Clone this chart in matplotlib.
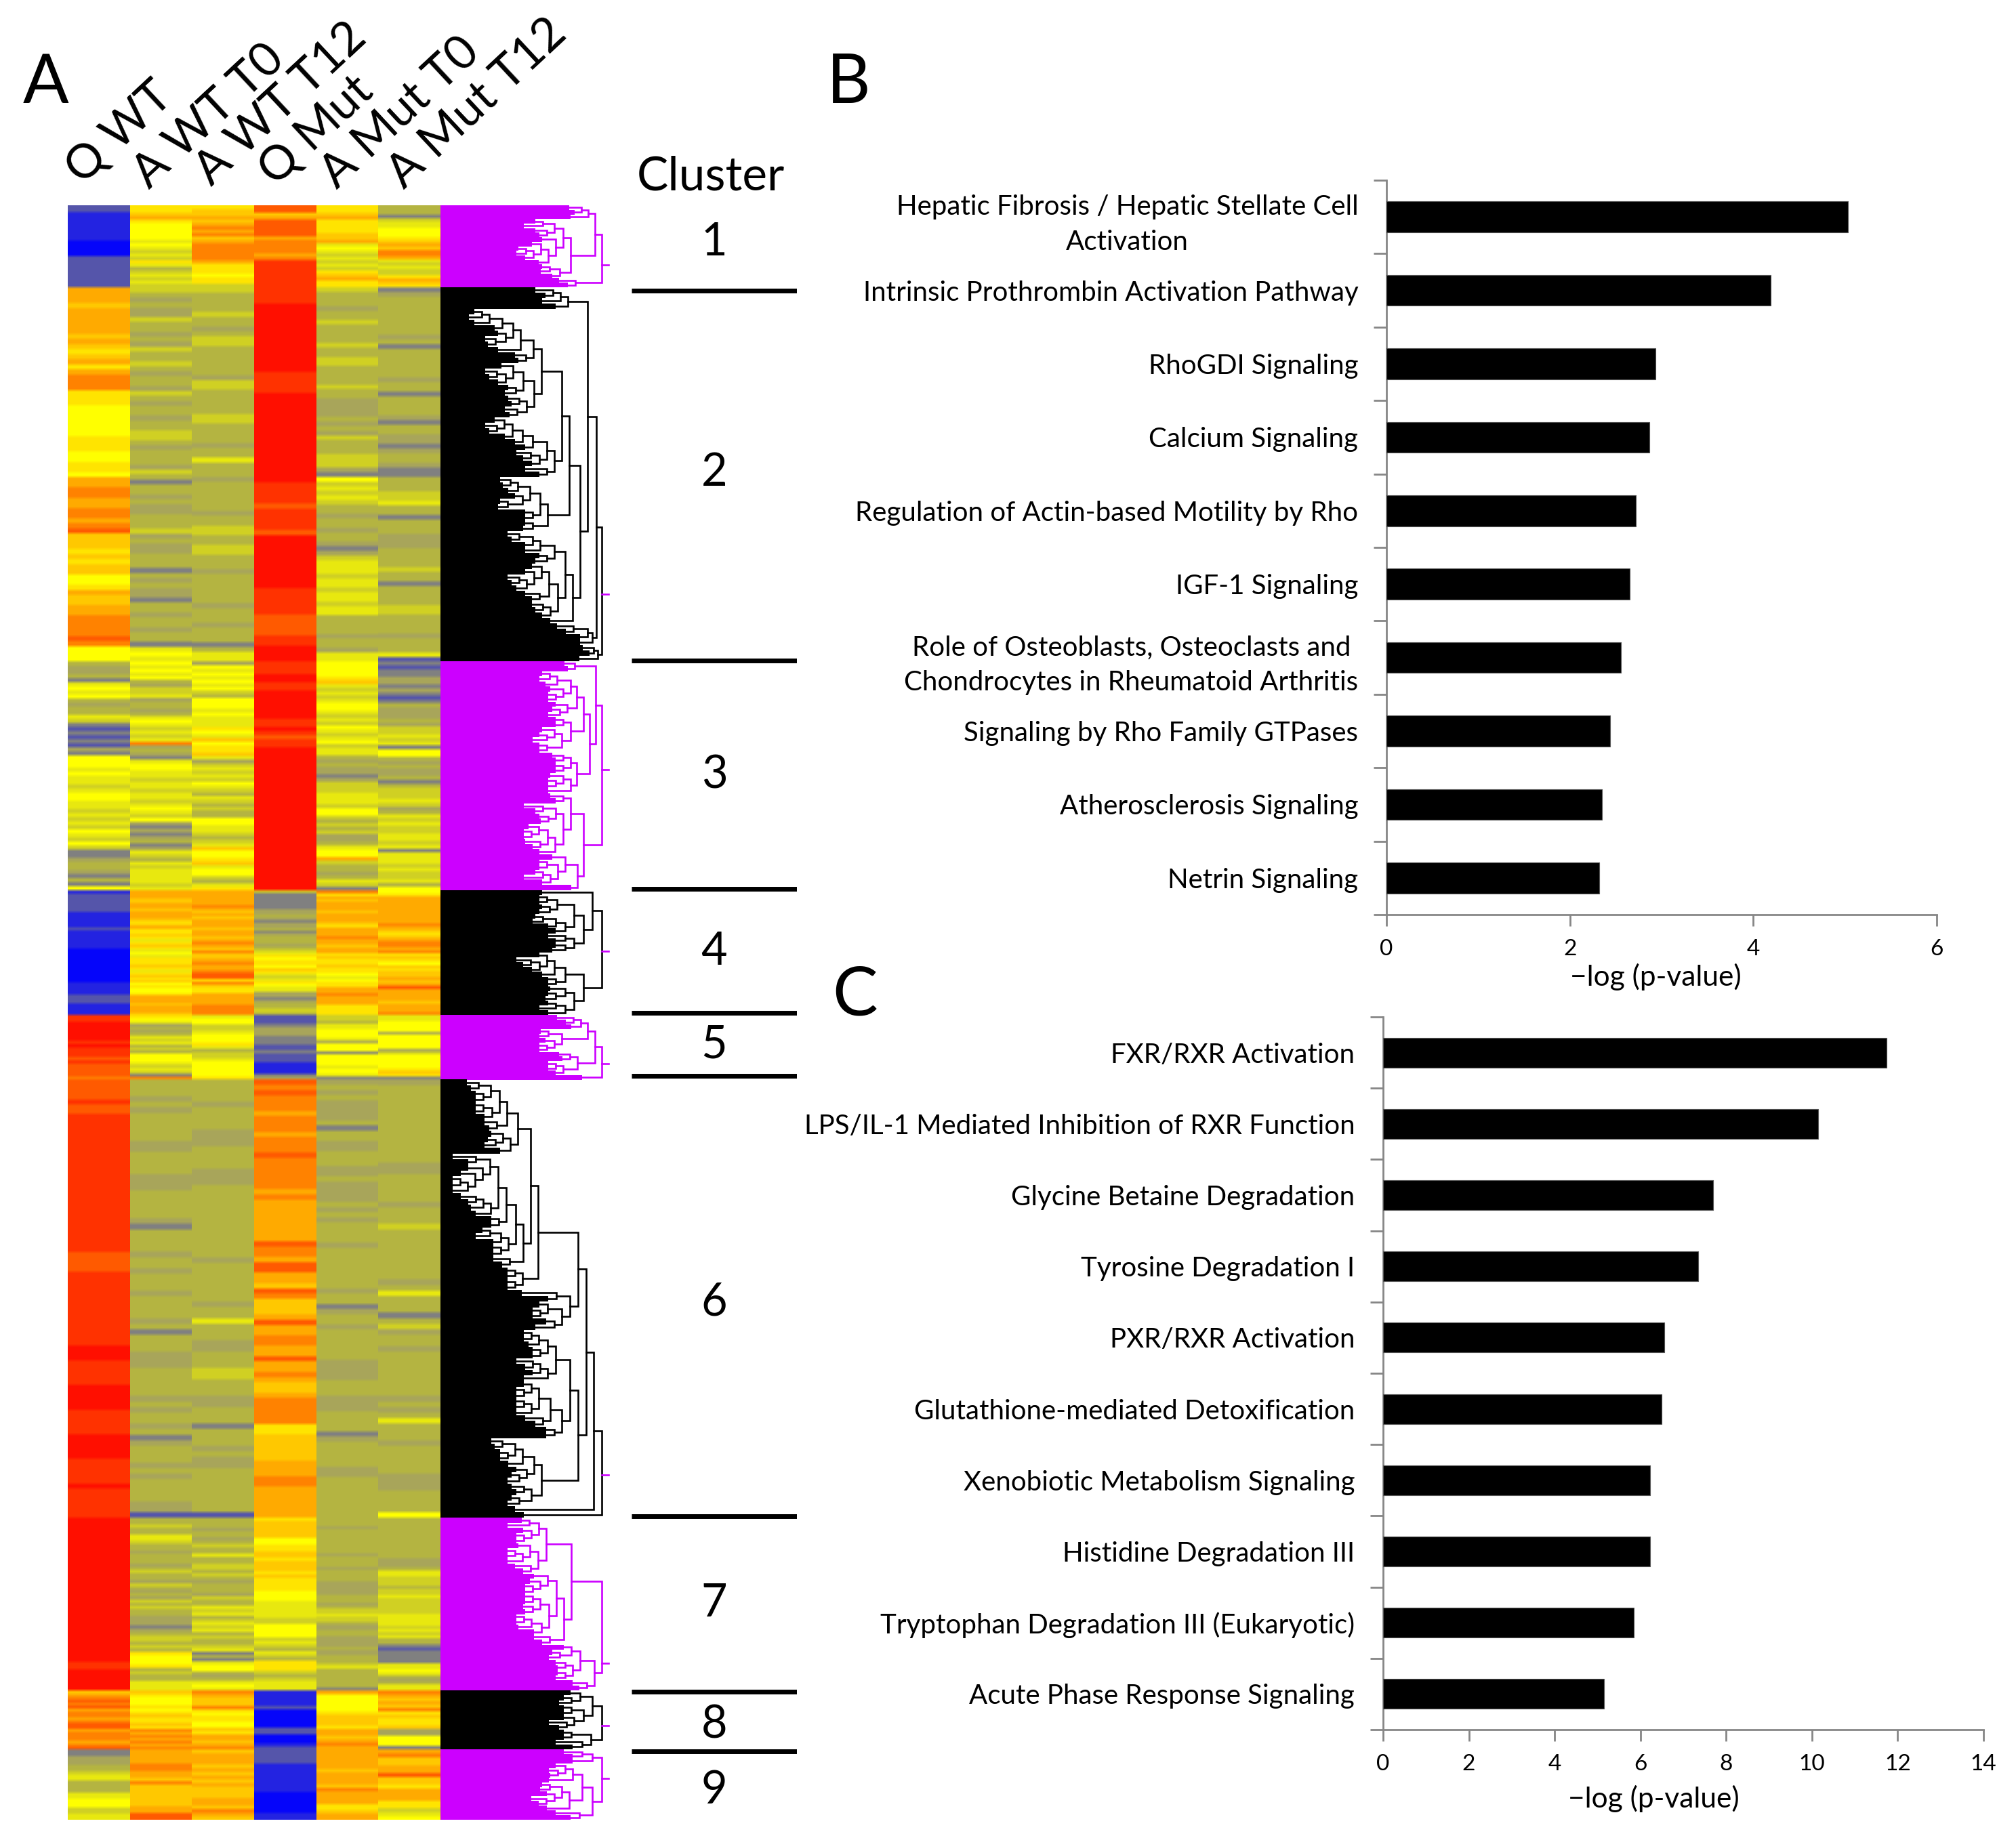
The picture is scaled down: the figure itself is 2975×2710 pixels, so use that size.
import numpy as np
import matplotlib
matplotlib.use("Agg")
import matplotlib.pyplot as plt
from matplotlib.colors import LinearSegmentedColormap

plt.rcParams['font.family'] = ['Lato', 'DejaVu Sans']
W, H = 2975, 2710

columns = ["Q WT", "A WT T0", "A WT T12", "Q Mut", "A Mut T0", "A Mut T12"]
cluster_rows = [121, 552, 338, 185, 95, 647, 255, 87, 104]
cluster_names = ["1", "2", "3", "4", "5", "6", "7", "8", "9"]
cluster_rule_rows = [126, 672, 1009, 1192, 1286, 1936, 2195, 2283]
cluster_label_rows = [55, 395, 842, 1102, 1240, 1620, 2065, 2244, 2341]

# expression level letters, from lowest (blue) through grey and yellow to highest (red)
LEVELS = "Bbvgoklmyuatpqrs"
LEVEL_COLORS = ["#0505fa", "#2323e1", "#5555aa", "#808080", "#a8a55a", "#b4b441", "#d0d023", "#e8e80f",
                "#ffff00", "#ffe400", "#ffc800", "#ffaa00", "#ff8200", "#ff5a00", "#ff3200", "#ff0f00"]

q_wt = ["vvbbbbbbbbbBBBBBvvvvvvvvvv",
        "tttatttttatauatutpppuuuyyyyyyuuuyyuuyttppttpptpqaaauauaayyutaattppppqpyyy",
        "kookgmymykokkmlgvgvgvogyyymymmlmyymmlmlmlymlylggokkogkgy",
        "bvvvvvvbbbbbvbbbbbbBBBBBBBBBBBbbbbvvvbbbb",
        "rrssssssrsrrrqrqqqqp",
        "qqqqrqqrrrrrrrrrrrrrrrrrrrrrrrrrrrrqqqqrrrrrrrrrrrrrrrsssrrrrrsssssrrrrrsssssrrrrrsrrrrrr",
        "ssssssssssssssssssssssssssssssssssssssssrrssssss",
        "atpqpqtpptpqqtppptpq",
        "ggoookklmmkkkkmmyyyllmm"]
a_wt_t0 = ["uuatuyyyyymymlmlumklmlml",
           "lkokoolkkokolkklkokkolkokkokkllkokkkolkgkkokookkklokookkkgkokoogkkokkokkgmym",
           "ymymykollmokkokmymlmlmpokogmyymmlmmlmmlmymlyogogokgomlkmlmmmmlm",
           "tttaattatttauatuuaumuaumymuuuaumuauayuyyutttattta",
           "uymokokmlmklkyyymlmlgp",
           "kkkokokkkkkookkkkoookkkkkogkkkkokkokkkokkkkokgkkkoookkkkkokokkokgokkkokokkkkoov",
           "kklkkmmlkkokkkoklkkolkokolklkkooogokllklkuyyyuklkkmmm",
           "auyyyuyuauuauptptptp",
           "ttttppttapaaaaaattqq"]
a_wt_t12 = ["uaatatptpatppppptuuuyuul",
            "lkkkklkkokllkkkkkkollkkkkkllkkkkokkmkkkokkkkkkokkllkkllkkkokkkkkkokkkokkkgkmm",
            "oymymymylkyyymymmmuymayuuamolmlmlymlkmlklkkyymmlklmayyuamyylkmu",
            "tttttptatatttattatptapaatpttpqqupauuttttpppp",
            "myyllmyyyumkllmyyyyyu",
            "kkkkokkkkoookkkkoookkkkkkkkkkkkkokkkkkkkokkmkkkookkkllkkkookkkgkkkokookkkkkkkkv",
            "kkkokkoklkkmkkllklkokkkolkkmlmklmlmklkklmgkgmyykokmym",
            "ptaaapuyuuyyauttatp",
            "atttatatataaattapta"]
q_mut = ["qqatqqqqqtpppptprrrrrrrr",
         "rrrsssssssssssssrrrrsssssssssssssssssrrrrqrrrrqssssssssssrrrrrqqqqrrsss",
         "rrrssrrsssssssrrsrqrrsssssssssssssssssssssssssssssssssss",
         "lggggggookogookgokkkoklmuyuuyaumlmuymmoogokkllk",
         "vvvgooogggvvgvvvbbbbgo",
         "qpqppptppptpppqpppppptpttttttttqpptqqttaqpaaatqttppttqttptaatpppppuuaaaaatttpptttttt",
         "uaaaaayyuuaauaaauauuuuyyymmmmmllyyyylmlkmlkuuulklmmm",
         "bbbbbvBBBBBBvvBBBbv",
         "vvvvbbbbbbbbBBBBBBbb"]
a_mut_t0 = ["uuatuuuuaatmymlmlmluatuu",
            "lkkkokklkkkklkkllkkkklkkooookokolkkklllogylmlmlkkokkokkogolmmmlmmlmmlmmkkkkokkomm",
            "yyyyuamlmlmyymlmlymlmylmmkokoogolllmmmlyylklklookmyytlkkokmlg",
            "putatttatttautttpttattuauuauuymyuuttptttuuuu",
            "llkmmyyymoyyygyyyymyymg",
            "okokooookgkkookkkookooookokokkkkokkkkkkkkokkgokkokkkkkkooookkkoookkkkgokkkkkookkkkkkkk",
            "kkkokkkkkkkkkokkkkokkkkoooookkkokllmllkookkooookookkklmkkkkkkkg",
            "tyyyyyuaaauttatpt",
            "ttttttattttapttttuuatt"]
a_mut_t12 = ["kkkglmmyyyuatapptmlmllutau",
             "gokkkkkkkkokgkkkkkkokkgkkkkogkkoogokkoggkkkllmkkgkkkoookkkklkkgkkkkllkkkkokkkmv",
             "gvggoogogvgkoookollmlmgyykokookgklllmlokmlmllmmlmgmmmlmllmky",
             "yutttttttttptauatpptpuauyauaatatqttttatttp",
             "mmyyyyoyyyyyolyyyyyuaug",
             "okkkkkkkkkkkkkkookkkkkokkklkkkkkkkkkokmkkkgklokkokkkkkkkkokokmkkkokkkkkoookkkky",
             "kkkkkkkkkkkkkoookmmlllkllmlllllmmmmlmlmkkgvggggmmymkokmm",
             "ptatapuauuaooyyyg",
             "tpaattqaautttuulmy"]
heat_columns = [q_wt, a_wt_t0, a_wt_t12, q_mut, a_mut_t0, a_mut_t12]

# right-hand end of the solid dendrogram block at each leaf, per cluster
den_leaves = [
    [840, 848, 842, 790, 773, 790, 796, 800, 785, 765, 762, 775, 795, 800, 798, 815, 825, 838],
    [790, 805, 800, 820, 700, 692, 700, 730, 735, 716, 720, 735, 760, 765, 740, 716, 722, 735, 750, 745, 750, 755,
     745, 752, 730, 716, 722, 745, 760, 775, 762, 772, 785, 775, 796, 738, 742, 750, 760, 738, 735, 775, 775, 775,
     772, 749, 755, 775, 775, 796, 790, 785, 775, 749, 755, 762, 775, 785, 785, 790, 800, 812, 822, 835, 856, 856,
     860, 870, 855],
    [833, 838, 800, 796, 805, 812, 809, 809, 820, 815, 809, 820, 820, 800, 796, 786, 796, 796, 815, 820, 820, 820,
     812, 809, 809, 809, 812, 820, 773, 790, 796, 798, 780, 773, 773, 775, 786, 796, 815, 796, 796, 790, 773, 800, 843],
    [800, 796, 796, 800, 796, 790, 786, 809, 820, 809, 820, 820, 815, 796, 762, 772, 785, 800, 809, 809, 812, 809,
     805, 809, 796, 809],
    [822, 835, 843, 798, 796, 805, 796, 796, 825, 830, 809, 809, 820, 859],
    [689, 695, 702, 702, 702, 702, 715, 715, 722, 725, 720, 715, 738, 668, 691, 691, 680, 668, 668, 668, 680, 691,
     695, 702, 725, 725, 712, 702, 728, 728, 728, 728, 741, 749, 749, 749, 749, 770, 809, 796, 786, 786, 806, 790,
     773, 773, 780, 786, 786, 762, 775, 786, 773, 773, 762, 762, 762, 762, 762, 775, 790, 806, 806, 725, 730, 738,
     738, 750, 762, 755, 749, 755, 762, 755, 749, 760, 773],
    [770, 749, 772, 762, 762, 765, 749, 749, 749, 760, 772, 788, 782, 775, 775, 775, 775, 772, 775, 762, 762, 765,
     788, 788, 800, 832, 815, 810, 820, 823, 823, 820, 845, 855],
    [842, 832, 825, 832, 832, 832, 810, 825, 832, 832, 820, 845],
    [832, 845, 845, 820, 810, 812, 810, 800, 797, 807, 784, 795, 807, 820, 842],
]
# top-level branch points of each dendrogram: leaf index -> depth of the split (1 = root)
den_splits = [
    {16: 1, 3: 2},
    {66: 1, 62: 2, 4: 3, 45: 4, 35: 5, 14: 6, 24: 6},
    {26: 1, 2: 2, 38: 2, 18: 3},
    {13: 1, 1: 2, 20: 2},
    {13: 1, 8: 2, 3: 3},
    {76: 1, 75: 2, 44: 3, 63: 4, 37: 4, 13: 5, 53: 5, 33: 5},
    {25: 1, 32: 2, 11: 3},
    {8: 1, 3: 2, 10: 2},
    {3: 1, 13: 2, 7: 3},
]
den_stub_rows = [88, 574, 833, 1101, 1268, 1875, 2153, 2245, 2323]
den_colors = ["#cc00ff", "#000000", "#cc00ff", "#000000", "#cc00ff", "#000000", "#cc00ff", "#000000", "#cc00ff"]
den_root = 888
den_root_stub = 898

pathways_b = ["Hepatic Fibrosis / Hepatic Stellate Cell\nActivation", "Intrinsic Prothrombin Activation Pathway",
              "RhoGDI Signaling", "Calcium Signaling", "Regulation of Actin-based Motility by Rho", "IGF-1 Signaling",
              "Role of Osteoblasts, Osteoclasts and\nChondrocytes in Rheumatoid Arthritis",
              "Signaling by Rho Family GTPases", "Atherosclerosis Signaling", "Netrin Signaling"]
values_b = [5.03, 4.19, 2.93, 2.87, 2.72, 2.65, 2.56, 2.44, 2.35, 2.32]
pathways_c = ["FXR/RXR Activation", "LPS/IL-1 Mediated Inhibition of RXR Function", "Glycine Betaine Degradation",
              "Tyrosine Degradation I", "PXR/RXR Activation", "Glutathione-mediated Detoxification",
              "Xenobiotic Metabolism Signaling", "Histidine Degradation III",
              "Tryptophan Degradation III (Eukaryotic)", "Acute Phase Response Signaling"]
values_c = [11.74, 10.15, 7.69, 7.34, 6.56, 6.50, 6.23, 6.23, 5.84, 5.15]
ticks_b = [0, 2, 4, 6]
ticks_c = [0, 2, 4, 6, 8, 10, 12, 14]
xlabel = "\u2212log (p-value)"

fig = plt.figure(figsize=(W / 100, H / 100), dpi=100, facecolor="white")


def px_axes(l, t, r, b):
    return fig.add_axes([l / W, 1 - b / H, (r - l) / W, (b - t) / H])


total = sum(cluster_rows)
HEAT_T, HEAT_B = 303, 2686

# ---- heatmap
cmap = LinearSegmentedColormap.from_list("heat", LEVEL_COLORS, N=256)
matrix = np.zeros((total, len(heat_columns)))
for c, col in enumerate(heat_columns):
    start = 0
    for rows, s in zip(cluster_rows, col):
        lv = np.array([LEVELS.index(ch) for ch in s])
        idx = (np.arange(rows) * len(lv) // rows)
        matrix[start:start + rows, c] = lv[idx]
        start += rows
rgb = cmap(matrix / (len(LEVELS) - 1))[:, :, :3]
# the source image is slightly soft along the rows
kernel = np.ones(5) / 5
soft = np.stack([np.stack([np.convolve(np.pad(rgb[:, c, k], 2, mode="edge"), kernel, mode="valid")
                           for k in range(3)], axis=1) for c in range(rgb.shape[1])], axis=1)
ax = px_axes(100, HEAT_T, 650, HEAT_B)
ax.imshow(soft, aspect="auto", interpolation="nearest", extent=(0, 6, total, 0))
ax.axis("off")

# ---- dendrogram
dax = px_axes(650, HEAT_T, 910, HEAT_B)
dax.set_xlim(650, 910)
dax.set_ylim(total, 0)
dax.axis("off")


def tree(leaves, splits, y0, dy, step=11.0):
    items = [[y0 + (i + 0.5) * dy, float(x), i] for i, x in enumerate(leaves)]
    merges = []
    top_leaf = max(leaves)

    def key(i):
        boundary = items[i + 1][2]  # first leaf of the right-hand item
        cost = max(items[i][1], items[i + 1][1])
        if boundary in splits:
            return (1, -splits[boundary], cost)
        return (0, 0, cost)

    while len(items) > 1:
        k = min(range(len(items) - 1), key=key)
        a, b = items[k], items[k + 1]
        x = max(a[1], b[1]) + step
        merges.append((a[1], a[0], b[1], b[0], x))
        items[k:k + 2] = [[(a[0] + b[0]) / 2, x, a[2]]]
    root = items[0][1]
    f = (den_root - top_leaf) / (root - top_leaf)
    sc = lambda v: v if v <= top_leaf else top_leaf + (v - top_leaf) * f
    return [(sc(a), ya, sc(b), yb, sc(x)) for a, ya, b, yb, x in merges]


start = 0
for rows, leaves, splits, stub, color in zip(cluster_rows, den_leaves, den_splits, den_stub_rows, den_colors):
    dy = rows / len(leaves)
    ys = start + (np.arange(len(leaves)) + 0.5) * dy
    lefts = np.full(len(leaves), 650.0)
    dax.barh(ys, np.array(leaves) - lefts, left=lefts, height=dy * 1.02, color=color, linewidth=0, zorder=1)
    merges = tree(leaves, splits, start, dy)
    for a, ya, b, yb, x in merges:
        dax.plot([a, x, x, b], [ya, ya, yb, yb], color=color, lw=1.9, solid_joinstyle="miter", zorder=2)
    _, ya, _, yb, _ = merges[-1]
    dax.plot([den_root, den_root_stub], [np.clip(stub, ya, yb)] * 2, color="#cc00ff", lw=1.9, zorder=3)
    start += rows

# ---- cluster rules and numbers
cax = px_axes(932, HEAT_T, 1176, HEAT_B)
cax.set_xlim(0, 1)
cax.set_ylim(total, 0)
cax.axis("off")
cax.hlines(cluster_rule_rows, 0, 1, color="black", lw=5)
for row, name in zip(cluster_label_rows, cluster_names):
    cax.text(0.5, row, name, ha="center", va="center", fontsize=48)

fig.text(1049 / W, 1 - 261 / H, "Cluster", ha="center", va="center", fontsize=50)

# ---- column labels
label_xy = [(130, 283), (229, 289), (320, 285), (415, 285), (506, 289), (605, 289)]
for (x, y), name in zip(label_xy, columns):
    fig.text(x / W, 1 - y / H, name, rotation=43, rotation_mode="anchor", ha="left", va="bottom", fontsize=50)

# ---- panel letters
for name, x, y in [("A", 68, 123), ("B", 1252, 123), ("C", 1262, 1470)]:
    fig.text(x / W, 1 - y / H, name, ha="center", va="center", fontsize=72)


def bar_panel(box, labels, values, ticks, label_x, label_drop, xmax):
    a = px_axes(*box)
    n = len(labels)
    a.barh(np.arange(n) + 0.5, values, height=0.42, color="black", edgecolor="#555555", linewidth=0.8, zorder=3)
    a.set_ylim(n, 0)
    a.set_xlim(0, xmax)
    a.set_yticks(np.arange(n + 1))
    a.set_yticklabels([])
    a.set_yticks(np.arange(n) + 0.5, minor=True)
    a.set_yticklabels(labels, minor=True, fontsize=29, multialignment="center", linespacing=1.5)
    a.tick_params(axis="y", which="minor", length=0, pad=30)
    a.tick_params(axis="y", which="major", length=14, width=2, color="#868686")
    a.set_xticks(ticks)
    a.tick_params(axis="x", length=12, width=2, color="#868686", labelsize=24, pad=14)
    a.spines[["top", "right"]].set_visible(False)
    a.spines[["left", "bottom"]].set_color("#868686")
    a.spines[["left", "bottom"]].set_linewidth(2)
    a.set_xlabel(xlabel, fontsize=30.5)
    a.xaxis.set_label_coords(label_x, -label_drop / (box[3] - box[1]))


bar_panel((2046, 266, 2858, 1350), pathways_b, values_b, ticks_b, 0.489, 72, 6)
bar_panel((2041, 1501, 2927, 2553), pathways_c, values_c, ticks_c, 0.451, 82, 14)

fig.savefig("out.png", dpi=100, facecolor="white")
